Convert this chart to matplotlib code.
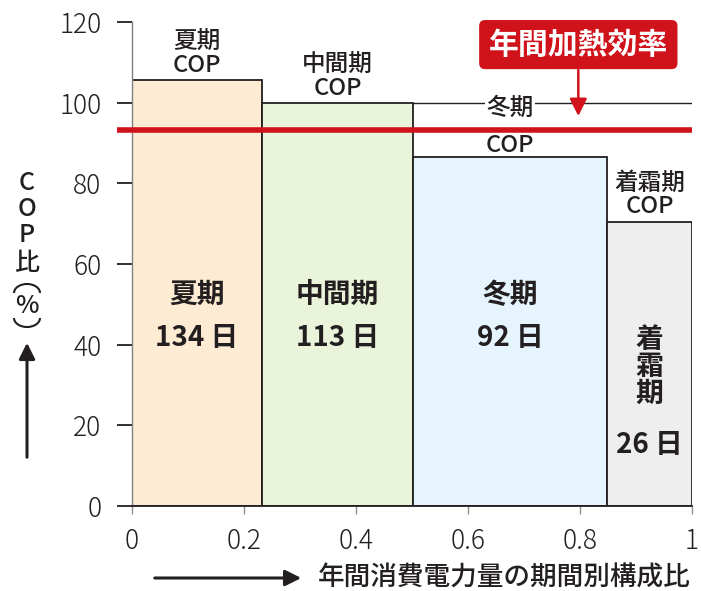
import matplotlib
matplotlib.use("Agg")
import matplotlib.pyplot as plt
from matplotlib.patches import Arc, FancyArrowPatch

plt.rcParams['font.family'] = ['Noto Sans CJK JP', 'DejaVu Sans']

# data
periods = ['夏期', '中間期', '冬期', '着霜期']
shares = [0.232, 0.270, 0.346, 0.152]      # 年間消費電力量の期間別構成比
cop_ratio = [105.5, 100.0, 86.5, 70.5]     # COP比 (%)
days = [134, 113, 92, 26]
annual_eff = 93.3                          # 年間加熱効率
colors = ['#fdebd4', '#e9f4da', '#e6f5fd', '#eeeeee']
x_ticks = [0, 0.2, 0.4, 0.6, 0.8, 1]
x_ticklabels = ['0', '0.2', '0.4', '0.6', '0.8', '1']
y_ticks = [0, 20, 40, 60, 80, 100, 120]

ink = '#231f20'
red = '#d0121b'

W, H = 701, 591
fig = plt.figure(figsize=(W/100, H/100), dpi=100)
ax = fig.add_axes([132/W, 1-506/H, 560/W, 484/H])

lefts = [sum(shares[:i]) for i in range(len(shares))]
centers = [l + w/2 for l, w in zip(lefts, shares)]
ax.bar(lefts, cop_ratio, width=shares, align='edge', color=colors,
       edgecolor=ink, linewidth=1.3, zorder=2)

# thin reference line at 100 % to the right of the mid bar
ax.plot([lefts[2], 1], [100, 100], color=ink, lw=1.0, zorder=1)

# annual efficiency line
ax.plot([-0.027, 1], [annual_eff, annual_eff], color=red, lw=4,
        clip_on=False, zorder=4, solid_capstyle='butt')

ax.set_xlim(0, 1)
ax.set_ylim(0, 120)
ax.set_xticks(x_ticks)
ax.set_xticklabels(x_ticklabels)
ax.set_yticks(y_ticks)
for s in ['top', 'right']:
    ax.spines[s].set_visible(False)
ax.spines['left'].set_color('#808080')
ax.spines['left'].set_linewidth(1.0)
ax.spines['bottom'].set_color(ink)
ax.spines['bottom'].set_linewidth(1.3)
ax.tick_params(axis='y', length=11, width=1.3, color=ink, pad=11,
               labelsize=19, labelcolor=ink)
ax.tick_params(axis='x', length=6, width=1.0, color='#909090', pad=9,
               labelsize=19, labelcolor=ink)
for lab in ax.get_xticklabels() + ax.get_yticklabels():
    lab.set_fontweight('light')

# labels above bars
top_fs = 17
ax.text(centers[0], cop_ratio[0] + 0.8, periods[0] + '\nCOP', ha='center',
        va='bottom', fontsize=top_fs, color=ink, linespacing=1.0,
        fontweight='medium')
ax.text(centers[1], cop_ratio[1] + 0.6, periods[1] + '\nCOP', ha='center',
        va='bottom', fontsize=top_fs, color=ink, linespacing=1.0,
        fontweight='medium')
ax.text(centers[2], 98.7, periods[2], ha='center', va='center',
        fontsize=top_fs, color=ink, zorder=3, fontweight='medium',
        bbox=dict(facecolor='white', edgecolor='none', pad=1))
ax.text(centers[2], 89.4, 'COP', ha='center', va='center',
        fontsize=top_fs, color=ink, zorder=3, fontweight='medium')
ax.text(centers[3], cop_ratio[3] + 1.0, periods[3] + '\nCOP', ha='center',
        va='bottom', fontsize=top_fs, color=ink, linespacing=1.0,
        fontweight='medium')

# labels inside bars
in_fs = 20
for i in range(3):
    ax.text(centers[i], 52.3, periods[i], ha='center', va='center',
            fontsize=in_fs, fontweight='bold', color=ink, zorder=3)
    ax.text(centers[i], 41.7, f'{days[i]} 日', ha='center', va='center',
            fontsize=in_fs, fontweight='bold', color=ink, zorder=3)
ax.text(centers[3], 34.5, '\n'.join(periods[3]), ha='center', va='center',
        fontsize=in_fs, fontweight='bold', color=ink, linespacing=0.95,
        zorder=3)
ax.text(centers[3], 15.1, f'{days[3]} 日', ha='center', va='center',
        fontsize=in_fs, fontweight='bold', color=ink, zorder=3)

# annual efficiency callout
ax.annotate('', xy=(0.797, 96.0), xytext=(0.797, 108.8),
            arrowprops=dict(arrowstyle='-|>', color=red, lw=1.8,
                            mutation_scale=26), zorder=5)
ax.text(0.797, 114.4, '年間加熱効率', ha='center', va='center',
        fontsize=21.5, fontweight='bold', color='white', zorder=6,
        bbox=dict(boxstyle='round,pad=0.32,rounding_size=0.2',
                  facecolor=red, edgecolor='none'))

# y axis title, stacked vertically (vertical-writing parentheses as arcs)
ylab = [('C', 183), ('O', 209), ('P', 235), ('比', 263), ('%', 306)]
for ch, py in ylab:
    fig.text(27/W, 1 - py/H, ch, ha='center', va='center',
             fontsize=18, color=ink, fontweight='medium')
fig.add_artist(Arc((27/W, 1 - 293/H), 26/W, 18/H, theta1=0, theta2=180,
                   transform=fig.transFigure, color=ink, lw=1.5))
fig.add_artist(Arc((27/W, 1 - 318/H), 26/W, 18/H, theta1=180, theta2=360,
                   transform=fig.transFigure, color=ink, lw=1.5))
fig.add_artist(FancyArrowPatch(
    (27/W, 1 - 460/H), (27/W, 1 - 340/H),
    transform=fig.transFigure, arrowstyle='-|>', mutation_scale=24,
    color=ink, lw=2.2))

# x axis title with arrow
fig.add_artist(FancyArrowPatch(
    (152/W, 1 - 578/H), (304/W, 1 - 578/H),
    transform=fig.transFigure, arrowstyle='-|>', mutation_scale=24,
    color=ink, lw=2.2))
fig.text(318/W, 1 - 578/H, '年間消費電力量の期間別構成比', ha='left',
         va='center', fontsize=19.2, color=ink, fontweight='medium')

fig.savefig('out.png', dpi=100)
